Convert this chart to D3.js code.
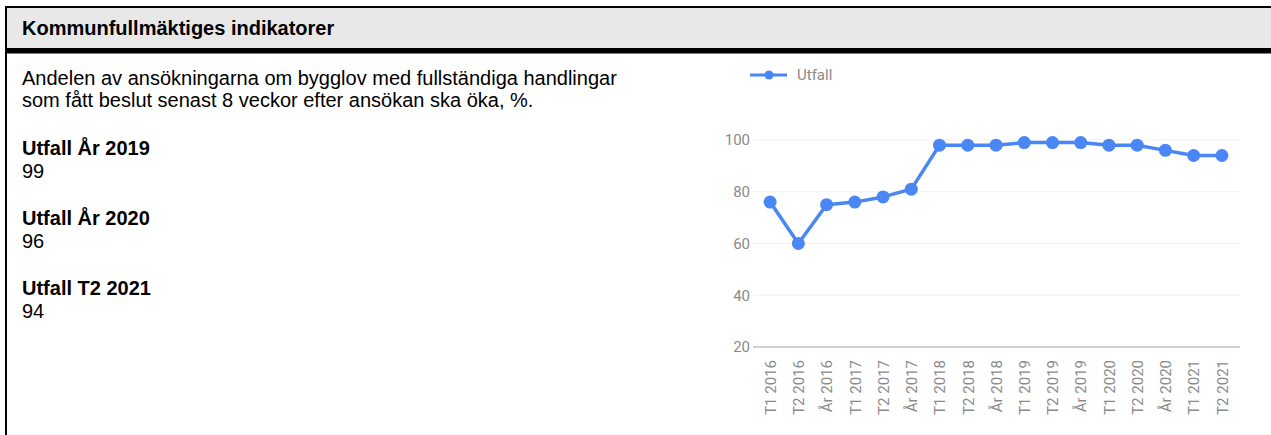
<!DOCTYPE html>
<html>
<head>
<meta charset="utf-8">
<script src="https://cdn.jsdelivr.net/npm/d3@7"></script>
<style>
  html, body { margin: 0; padding: 0; background: #fff; }
  svg { display: block; }
</style>
</head>
<body>
<svg id="chart" width="1271" height="435"></svg>
<script>
// ---- data ----
const categories = ["T1 2016","T2 2016","År 2016","T1 2017","T2 2017","År 2017",
  "T1 2018","T2 2018","År 2018","T1 2019","T2 2019","År 2019",
  "T1 2020","T2 2020","År 2020","T1 2021","T2 2021"];
const utfall = [76, 60, 75, 76, 78, 81, 98, 98, 98, 99, 99, 99, 98, 98, 96, 94, 94];
const yTicks = [20, 40, 60, 80, 100];
const seriesName = "Utfall";
const headerTitle = "Kommunfullmäktiges indikatorer";
const descLines = ["Andelen av ansökningarna om bygglov med fullständiga handlingar",
  "som fått beslut senast 8 veckor efter ansökan ska öka, %."];
const summaryLabels = ["Utfall År 2019", "Utfall År 2020", "Utfall T2 2021"];
const summaryValues = ["99", "96", "94"];

const svg = d3.select("#chart");
const blue = "#4a86f4";
const grey = "#8a8a8a";

// ---- frame ----
svg.append("rect").attr("x", 7).attr("y", 8).attr("width", 1264).attr("height", 40).attr("fill", "#e8e8e8");
svg.append("rect").attr("x", 5).attr("y", 6).attr("width", 1266).attr("height", 2).attr("fill", "#000");
svg.append("rect").attr("x", 5).attr("y", 6).attr("width", 2).attr("height", 429).attr("fill", "#000");
svg.append("rect").attr("x", 5).attr("y", 48).attr("width", 1266).attr("height", 5.5).attr("fill", "#000");

const txt = svg.append("g").attr("font-family", "'Liberation Sans', Arial, sans-serif").attr("fill", "#000");
txt.append("text").attr("x", 22).attr("y", 35).attr("font-size", 20).attr("font-weight", "bold").text(headerTitle);
descLines.forEach((l, i) => {
  txt.append("text").attr("x", 22).attr("y", 85 + i * 22).attr("font-size", 20).text(l);
});
summaryLabels.forEach((l, i) => {
  const by = 155 + i * 70;
  txt.append("text").attr("x", 22).attr("y", by).attr("font-size", 20).attr("font-weight", "bold").text(l);
  txt.append("text").attr("x", 22).attr("y", by + 23).attr("font-size", 20).text(summaryValues[i]);
});

// ---- chart ----
const x = d3.scalePoint().domain(categories).range([756, 1236]).padding(0.5);
const y = d3.scaleLinear().domain([20, 100]).range([347, 140]);

const g = svg.append("g").attr("font-family", "Roboto, sans-serif");

// gridlines
g.append("g").selectAll("line").data(yTicks.filter(d => d !== 20)).join("line")
  .attr("x1", 753).attr("x2", 1240)
  .attr("y1", d => y(d)).attr("y2", d => y(d))
  .attr("stroke", "#f1f1f1").attr("stroke-width", 1);

// y axis
const yAxis = d3.axisLeft(y).tickValues(yTicks).tickSize(0).tickPadding(0);
const ya = g.append("g").attr("transform", "translate(750,0)").call(yAxis);
ya.select(".domain").remove();
ya.selectAll("text").attr("font-size", 15).attr("fill", grey).attr("font-family", "Roboto, sans-serif");

// baseline
g.append("line").attr("x1", 753).attr("x2", 1240).attr("y1", y(20)).attr("y2", y(20))
  .attr("stroke", "#a0a0a0").attr("stroke-width", 1.2);

// x axis labels
const xAxis = d3.axisBottom(x).tickSize(0).tickPadding(0);
const xa = g.append("g").attr("transform", `translate(0,${y(20)})`).call(xAxis);
xa.select(".domain").remove();
xa.selectAll("text")
  .attr("font-size", 15).attr("fill", grey).attr("font-family", "Roboto, sans-serif")
  .attr("text-anchor", "end").attr("dy", "0.35em")
  .attr("transform", "translate(0,13) rotate(-90)")
  .attr("y", 0);

// line
const line = d3.line().x((d, i) => x(categories[i])).y(d => y(d));
g.append("path").datum(utfall).attr("d", line)
  .attr("fill", "none").attr("stroke", blue).attr("stroke-width", 3.5).attr("stroke-linejoin", "round");
g.append("g").selectAll("circle").data(utfall).join("circle")
  .attr("cx", (d, i) => x(categories[i])).attr("cy", d => y(d)).attr("r", 6.5).attr("fill", blue);

// legend
const lg = g.append("g").attr("transform", "translate(750,75)");
lg.append("line").attr("x1", 0).attr("x2", 37).attr("stroke", blue).attr("stroke-width", 3);
lg.append("circle").attr("cx", 19).attr("r", 4.5).attr("fill", blue);
lg.append("text").attr("x", 47).attr("dy", "0.35em").attr("font-size", 15).attr("fill", grey).text(seriesName);
</script>
</body>
</html>
